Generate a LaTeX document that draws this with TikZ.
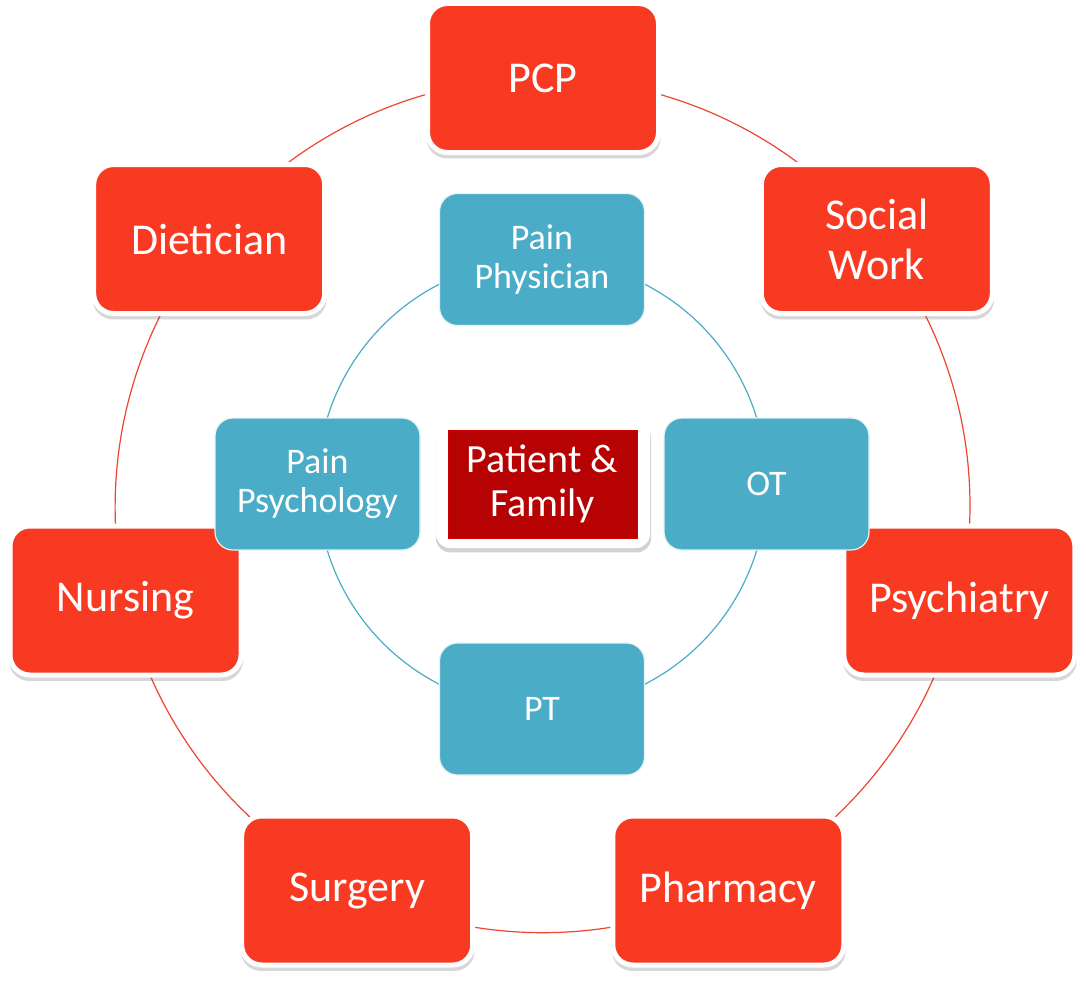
\documentclass[tikz,border=0pt]{standalone}
\usepackage{fontspec}
\setmainfont{Carlito}
\usetikzlibrary{shadows}
\pgfdeclarelayer{background}
\pgfsetlayers{background,main}
\definecolor{outerred}{HTML}{F93A23}
\definecolor{outerline}{HTML}{EE4530}
\definecolor{innerteal}{HTML}{4AACC6}
\definecolor{centerred}{HTML}{B60202}
\tikzset{
  outerbox/.style={rectangle, rounded corners=20pt, fill=outerred, draw=white, line width=5pt,
    minimum width=231pt, minimum height=149pt, inner sep=0pt, align=center, text=white,
    font=\fontsize{44}{50}\selectfont,
    drop shadow={shadow xshift=0.5pt, shadow yshift=-5pt, shadow scale=1.012, opacity=0.22, fill=black!70}},
  innerbox/.style={rectangle, rounded corners=18pt, fill=innerteal, draw=white!85!innerteal, line width=1.2pt,
    minimum width=205pt, minimum height=132pt, inner sep=0pt, align=center, text=white,
    font=\fontsize{36}{39}\selectfont},
  frame/.style={rectangle, rounded corners=14pt, fill=white, minimum width=214pt, minimum height=128pt,
    drop shadow={shadow xshift=0.5pt, shadow yshift=-4pt, shadow scale=1.005, opacity=0.25, fill=black!70}},
  centerbox/.style={rectangle, fill=centerred, draw=red!35!centerred, line width=0.8pt,
    minimum width=189pt, minimum height=108pt, inner sep=0pt, align=center, text=white,
    font=\fontsize{40}{44}\selectfont},
  outerarc/.style={draw=outerline, line width=1.2pt, bend left=25.714, looseness=0.896},
  innerarc/.style={draw=innerteal, line width=1.2pt, bend left=45, looseness=1},
}
\begin{document}
\begin{tikzpicture}[x=1pt,y=1pt]
\useasboundingbox (0,0) rectangle (1086,-998);
% outer ring
\node[outerbox] (pcp)   at (543,-78)     {PCP};
\node[outerbox] (sw)    at (876.8,-239)  {Social\\Work};
\node[outerbox] (psych) at (959.3,-600.5){Psychiatry};
\node[outerbox] (pharm) at (728.3,-890.5){Pharmacy};
\node[outerbox] (surg)  at (357.2,-890.5){Surgery};
\node[outerbox] (nurs)  at (125.5,-600.5){Nursing};
\node[outerbox] (diet)  at (209.2,-239)  {Dietician};
% inner ring
\node[innerbox] (pphys) at (542,-259.5) {Pain\\Physician};
\node[innerbox] (ot)    at (766.5,-484) {OT};
\node[innerbox] (pt)    at (542,-709)   {PT};
\node[innerbox] (ppsy)  at (317.5,-484) {Pain\\Psychology};
% center
\node[frame] (pfframe) at (543,-484) {};
\node[centerbox] (pf) at (542.5,-484) {Patient \&\\Family};
\begin{pgfonlayer}{background}
  \fill[white] (0,0) rectangle (1086,-998);
  \draw[outerarc] (pcp.center) to (sw.center);
  \draw[outerarc] (sw.center) to (psych.center);
  \draw[outerarc] (psych.center) to (pharm.center);
  \draw[outerarc] (pharm.center) to (surg.center);
  \draw[outerarc] (surg.center) to (nurs.center);
  \draw[outerarc] (nurs.center) to (diet.center);
  \draw[outerarc] (diet.center) to (pcp.center);
  \draw[innerarc] (pphys.center) to (ot.center);
  \draw[innerarc] (ot.center) to (pt.center);
  \draw[innerarc] (pt.center) to (ppsy.center);
  \draw[innerarc] (ppsy.center) to (pphys.center);
\end{pgfonlayer}
\end{tikzpicture}
\end{document}
